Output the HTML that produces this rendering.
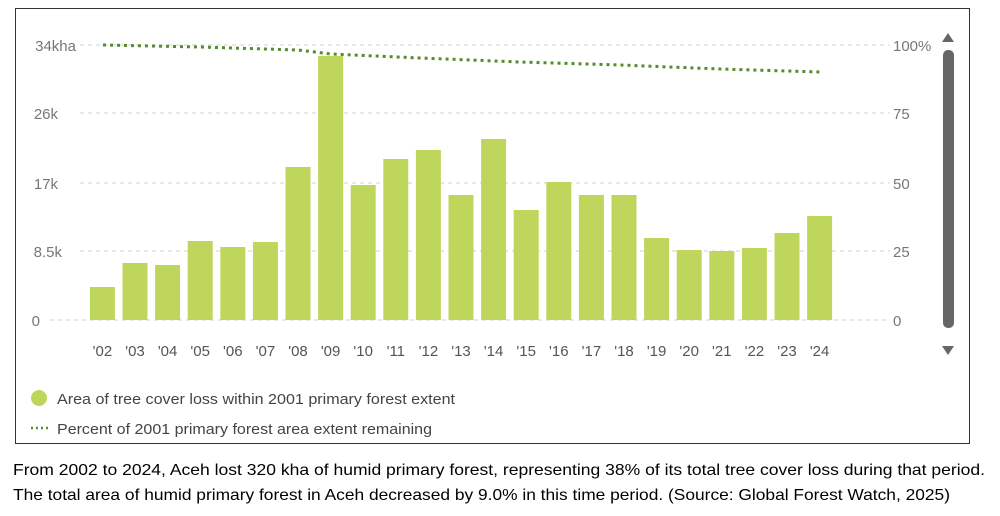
<!DOCTYPE html>
<html><head><meta charset="utf-8"><style>
body{margin:0;background:#fff;width:1000px;height:511px;overflow:hidden;font-family:"Liberation Sans",sans-serif}
</style></head><body>
<svg width="1000" height="511" xmlns="http://www.w3.org/2000/svg" font-family="Liberation Sans, sans-serif">
<rect x="15.5" y="8.5" width="954" height="435" fill="#fff" stroke="#333" stroke-width="1"/>
<g stroke="#d0d0d0" stroke-dasharray="4,4" stroke-width="1">
<line x1="80" y1="45" x2="890" y2="45"/><line x1="80" y1="113" x2="890" y2="113"/>
<line x1="80" y1="183" x2="890" y2="183"/><line x1="80" y1="251" x2="890" y2="251"/>
<line x1="50" y1="320" x2="890" y2="320"/>
</g>
<g fill="#777" font-size="15" text-anchor="end">
<text x="76" y="51">34kha</text><text x="58" y="119">26k</text><text x="58" y="189">17k</text><text x="62" y="257">8.5k</text><text x="40" y="326">0</text>
</g>
<g fill="#777" font-size="15" text-anchor="start">
<text x="893" y="51">100%</text><text x="893" y="119">75</text><text x="893" y="189">50</text><text x="893" y="257">25</text><text x="893" y="326">0</text>
</g>
<g fill="#bed65c" id="bars"></g>
<g fill="#555" font-size="15" text-anchor="middle" id="lbl"></g>
<polyline fill="none" stroke="#5a8a2e" stroke-width="3" stroke-dasharray="3,4" points="103,45 200,47 298,50 331,54 420,58 520,62 620,65 720,69 820,72"/>
<path d="M942,42 L948,33 L954,42 Z" fill="#666"/>
<rect x="943" y="50" width="11" height="278" rx="5" fill="#666"/>
<path d="M942,346 L954,346 L948,355 Z" fill="#666"/>
<circle cx="39" cy="398" r="8" fill="#bed65c"/>
<text x="57" y="404" font-size="15" fill="#444" textLength="398" lengthAdjust="spacingAndGlyphs">Area of tree cover loss within 2001 primary forest extent</text>
<line x1="31" y1="428" x2="48" y2="428" stroke="#5a8a2e" stroke-width="2.5" stroke-dasharray="2,3"/>
<text x="57" y="434" font-size="15" fill="#444" textLength="375" lengthAdjust="spacingAndGlyphs">Percent of 2001 primary forest area extent remaining</text>
<text x="13" y="475" font-size="16" fill="#000" textLength="972" lengthAdjust="spacingAndGlyphs">From 2002 to 2024, Aceh lost 320 kha of humid primary forest, representing 38% of its total tree cover loss during that period.</text>
<text x="13" y="500" font-size="16" fill="#000" textLength="937" lengthAdjust="spacingAndGlyphs">The total area of humid primary forest in Aceh decreased by 9.0% in this time period. (Source: Global Forest Watch, 2025)</text>
</svg>
<script>
var tops=[287,263,265,241,247,242,167,56,185,159,150,195,139,210,182,195,195,238,250,251,248,233,216];
var b=document.getElementById('bars'),l=document.getElementById('lbl'),ns='http://www.w3.org/2000/svg';
tops.forEach(function(t,i){var c=102.4+32.6*i;var r=document.createElementNS(ns,'rect');
r.setAttribute('x',c-12.5);r.setAttribute('y',t);r.setAttribute('width',25);r.setAttribute('height',320-t);b.appendChild(r);
var tx=document.createElementNS(ns,'text');tx.setAttribute('x',c);tx.setAttribute('y',356);
tx.textContent="'"+String(i+2).padStart(2,'0');l.appendChild(tx);});
</script>
</body></html>
